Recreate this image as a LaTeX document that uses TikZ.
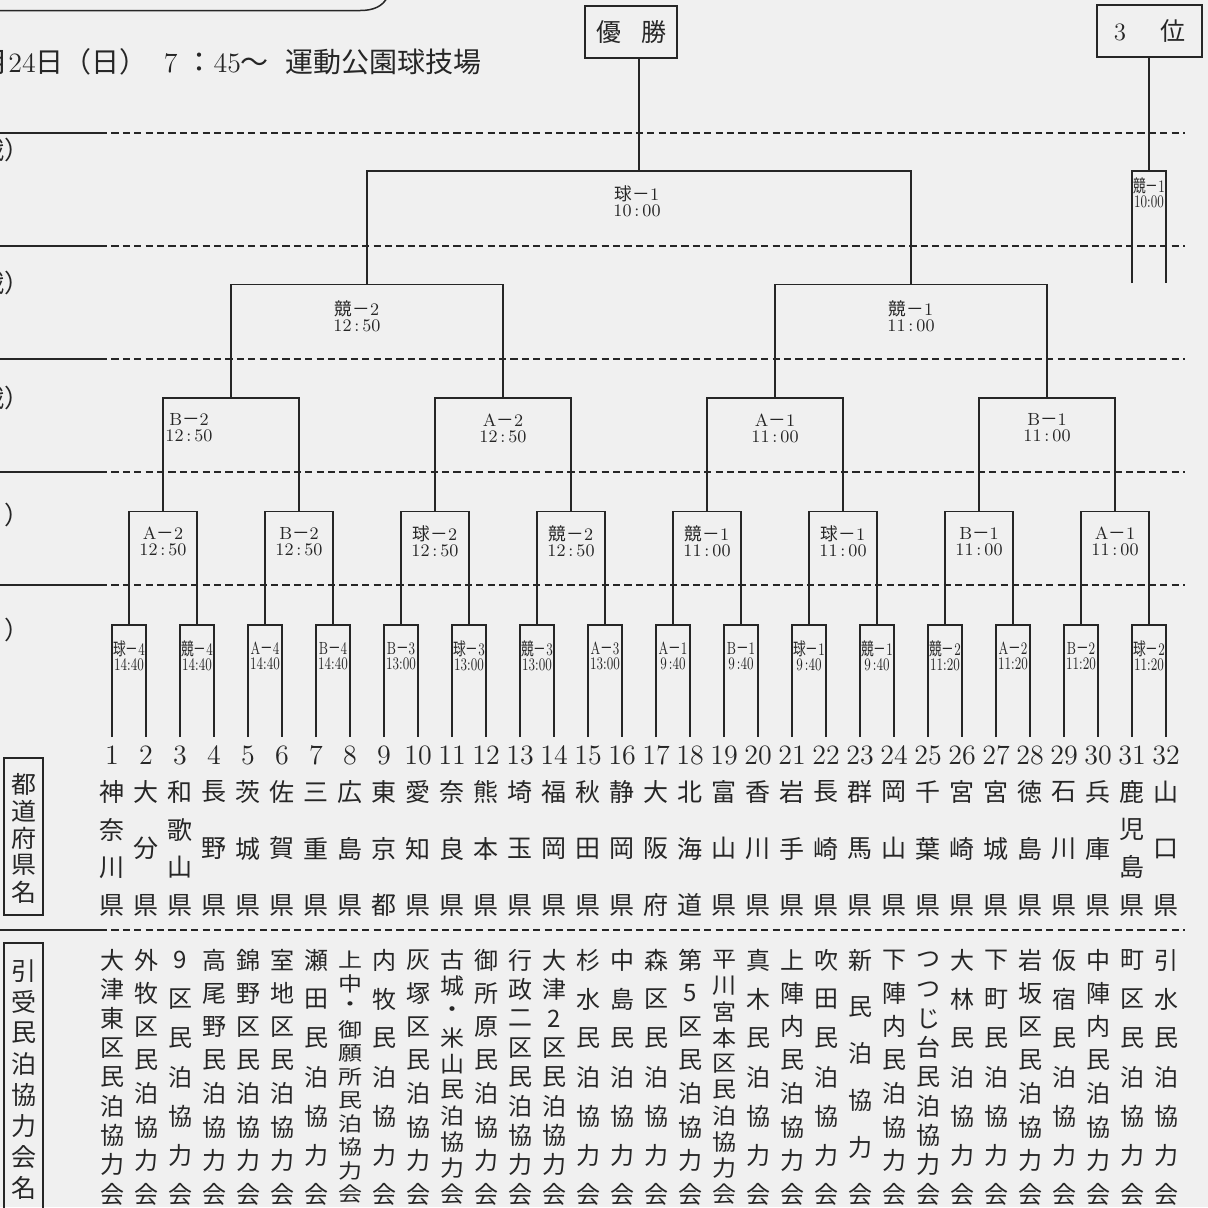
\documentclass[tikz,border=0pt]{standalone}
\usepackage{fontspec}
\newfontfamily\jp{Noto Sans CJK JP}
\usetikzlibrary{calc}
\definecolor{ink}{HTML}{262626}
\definecolor{paper}{HTML}{F0F0F0}
\newcommand\Q{{\jp 球}}
\newcommand\K{{\jp 競}}
\newcommand\D{{\jp －}}
\newcommand\J[1]{{\jp #1}}

\ExplSyntaxOn
\int_new:N \g_vc_n_int
\int_new:N \g_vc_j_int
\tl_new:N \l_vc_text_tl
\NewDocumentCommand \vcol { m m m m m m }
  {
    \tl_set:Nx \l_vc_text_tl {#6}
    \int_gset:Nn \g_vc_n_int { \tl_count:N \l_vc_text_tl }
    \int_gzero:N \g_vc_j_int
    \tl_map_inline:Nn \l_vc_text_tl
      {
        \int_gincr:N \g_vc_j_int
        \vcolnode {#1} {#2} {#3} {#4} {#5} {##1}
      }
  }
\cs_new:Npn \vcN { \int_use:N \g_vc_n_int }
\cs_new:Npn \vcJ { \int_use:N \g_vc_j_int }
\ExplSyntaxOff

\newcommand\vcolnode[6]{%
  \edef\jj{\vcJ}\edef\nn{\vcN}%
  \pgfmathsetmacro\yy{#4+(\jj-1)*(#5-#4)/(\nn-1)}%
  \pgfmathsetmacro\ys{min(1,(#5-#4)/(\nn-1)/28)}%
  \node[#2,yscale=\ys] (#1-\jj) at (#3,\yy) {#6};}

\begin{document}
\begin{tikzpicture}[x=0.5pt,y=-0.5pt,color=ink,
  br/.style={draw=ink,line width=0.75pt},
  sep/.style={draw=ink,line width=0.75pt,dash pattern=on 3.6pt off 2.1pt},
  num/.style={font=\fontsize{14}{15}\selectfont,inner sep=0pt},
  vch/.style={font=\jp\fontsize{12.5}{13}\selectfont,inner sep=0pt},
  vcs/.style={font=\jp\fontsize{12}{13}\selectfont,inner sep=0pt},
  lbl/.style={font=\fontsize{8.8}{8}\selectfont,align=center,inner sep=0pt},
  slbl/.style={font=\fontsize{8.8}{7.5}\selectfont,align=center,inner sep=0pt,xscale=0.72},
  hbox/.style={draw=ink,line width=0.75pt,inner sep=0pt,font=\fontsize{12.5}{13}\selectfont},
  rowlab/.style={anchor=east,inner sep=0pt,font=\jp\fontsize{12.5}{13}\selectfont}
]
\fill[paper] (0,0) rectangle (1208,1207);
\useasboundingbox (0,0) rectangle (1208,1207);
\clip (0,0) rectangle (1208,1207);

% top rounded frame
\draw[br] (-5,10.5) -- (360,10.5) to[out=0,in=-115] (388,-4);

% date line
\node[anchor=west,inner sep=0pt,font=\fontsize{14}{15}\selectfont] (date) at (-20,62)
  {\J{月}24\J{日（日）}\hspace{8pt}7\hspace{4pt}\J{：}45\J{～}\hspace{8.5pt}\J{運動公園球技場}};

% separators
\foreach \y in {133,246,359,472,585,930}{
  \draw[br] (-2,\y) -- (100,\y);
  \draw[sep] (100,\y) -- (1185,\y);
}

% row labels (clipped at the left edge)
\node[rowlab] (r1) at (30,150) {戦）};
\node[rowlab] (r2) at (30,283) {戦）};
\node[rowlab] (r3) at (30,398) {戦）};
\node[rowlab] (r4) at (30,515) {）};
\node[rowlab] (r5) at (30,630) {）};

% top boxes
\node[hbox,minimum width=46pt,minimum height=26pt] (win) at (631,32) {\J{優}\hspace{10pt}\J{勝}};
\node[hbox,minimum width=52.5pt,minimum height=26pt] (third) at (1149.5,31) {3\hspace{17pt}\J{位}};

% teams: leaf ends and numbers
\foreach \i in {1,...,32}{
  \pgfmathsetmacro\xx{78+34*\i}
  \coordinate (t\i) at (\xx,737);
  \node[num] (n\i) at (\xx,755) {\i};
}
\foreach \k in {1,...,16}{\pgfmathsetmacro\xx{61+68*\k}\coordinate (a\k) at (\xx,625);}
\foreach \k in {1,...,8}{\pgfmathsetmacro\xx{27+136*\k}\coordinate (b\k) at (\xx,511.5);}
\foreach \k in {1,...,4}{\pgfmathsetmacro\xx{-41+272*\k}\coordinate (c\k) at (\xx,398);}
\foreach \k in {1,2}{\pgfmathsetmacro\xx{-177+544*\k}\coordinate (d\k) at (\xx,284.5);}
\coordinate (e1) at (639,171);
\coordinate (f1) at (1149,171);
\coordinate (g1) at (1132,283);
\coordinate (g2) at (1166,283);

% brackets
\foreach \k in {1,...,16}{\pgfmathtruncatemacro\l{2*\k-1}\pgfmathtruncatemacro\r{2*\k}
  \draw[br] (t\l) |- (a\k) -| (t\r);}
\foreach \k in {1,...,8}{\pgfmathtruncatemacro\l{2*\k-1}\pgfmathtruncatemacro\r{2*\k}
  \draw[br] (a\l) |- (b\k) -| (a\r);}
\foreach \k in {1,...,4}{\pgfmathtruncatemacro\l{2*\k-1}\pgfmathtruncatemacro\r{2*\k}
  \draw[br] (b\l) |- (c\k) -| (b\r);}
\draw[br] (c1) |- (d1) -| (c2);
\draw[br] (c3) |- (d2) -| (c4);
\draw[br] (d1) |- (e1) -| (d2);
\draw[br] (e1) -- (e1 |- win.south);
\draw[br] (g1) |- (f1) -| (g2);
\draw[br] (f1) -- (f1 |- third.south);

% match labels
\foreach \k/\g/\n/\tm in {1/\Q/4/14:40,2/\K/4/14:40,3/A/4/14:40,4/B/4/14:40,
  5/B/3/13:00,6/\Q/3/13:00,7/\K/3/13:00,8/A/3/13:00,
  9/A/1/9\,:40,10/B/1/9\,:40,11/\Q/1/9\,:40,12/\K/1/9\,:40,
  13/\K/2/11:20,14/A/2/11:20,15/B/2/11:20,16/\Q/2/11:20}{
  \node[slbl] (la\k) at ($(a\k)+(0,31)$) {\g\D\n\\\tm};
}
\foreach \k/\g/\n/\tm in {1/A/2/12\,:\,50,2/B/2/12\,:\,50,3/\Q/2/12\,:\,50,4/\K/2/12\,:\,50,
  5/\K/1/11\,:\,00,6/\Q/1/11\,:\,00,7/B/1/11\,:\,00,8/A/1/11\,:\,00}{
  \node[lbl] (lb\k) at ($(b\k)+(0,30)$) {\g\D\n\\\tm};
}
\node[lbl] (lc1) at ($(c1)+(-42,30)$) {B\D2\\12\,:\,50};
\foreach \k/\g/\n/\tm in {2/A/2/12\,:\,50,3/A/1/11\,:\,00,4/B/1/11\,:\,00}{
  \node[lbl] (lc\k) at ($(c\k)+(0,30)$) {\g\D\n\\\tm};
}
\node[lbl] (ld1) at ($(d1)+(-10,32)$) {\K\D2\\12\,:\,50};
\node[lbl] (ld2) at ($(d2)+(0,32)$) {\K\D1\\11\,:\,00};
\node[lbl] (le1) at ($(e1)+(-2,30)$) {\Q\D1\\10\,:\,00};
\node[slbl] (lf1) at ($(f1)+(0,22)$) {\K\D1\\10:00};

% header boxes
\node[draw=ink,line width=0.75pt,minimum width=19.5pt,minimum height=78.5pt,inner sep=0pt] (hA) at (23.5,836.5) {};
\vcol{hAc}{vch}{23.5}{784}{892}{都道府県名}
\node[draw=ink,line width=0.75pt,minimum width=19.5pt,minimum height=140pt,inner sep=0pt] (hB) at (23.5,1083) {};
\vcol{hBc}{vch}{23.5}{971}{1188}{引受民泊協力会名}

% prefectures
\foreach \i/\s in {1/神奈川県,2/大分県,3/和歌山県,4/長野県,5/茨城県,6/佐賀県,7/三重県,8/広島県,
  9/東京都,10/愛知県,11/奈良県,12/熊本県,13/埼玉県,14/福岡県,15/秋田県,16/静岡県,
  17/大阪府,18/北海道,19/富山県,20/香川県,21/岩手県,22/長崎県,23/群馬県,24/岡山県,
  25/千葉県,26/宮崎県,27/宮城県,28/徳島県,29/石川県,30/兵庫県,31/鹿児島県,32/山口県}{
  \pgfmathsetmacro\xx{78+34*\i}
  \vcol{p\i}{vch}{\xx}{792}{905}{\s}
}
% host associations
\foreach \i/\s in {1/大津東区民泊協力会,2/外牧区民泊協力会,3/9区民泊協力会,4/高尾野民泊協力会,
  5/錦野区民泊協力会,6/室地区民泊協力会,7/瀬田民泊協力会,8/上中・御願所民泊協力会,
  9/内牧民泊協力会,10/灰塚区民泊協力会,11/古城・米山民泊協力会,12/御所原民泊協力会,
  13/行政二区民泊協力会,14/大津2区民泊協力会,15/杉水民泊協力会,16/中島民泊協力会,
  17/森区民泊協力会,18/第5区民泊協力会,19/平川宮本区民泊協力会,20/真木民泊協力会,
  21/上陣内民泊協力会,22/吹田民泊協力会,23/新民泊協力会,24/下陣内民泊協力会,
  25/つつじ台民泊協力会,26/大林民泊協力会,27/下町民泊協力会,28/岩坂区民泊協力会,
  29/仮宿民泊協力会,30/中陣内民泊協力会,31/町区民泊協力会,32/引水民泊協力会}{
  \pgfmathsetmacro\xx{78+34*\i}
  \vcol{h\i}{vcs}{\xx}{960}{1194}{\s}
}
\end{tikzpicture}
\end{document}
